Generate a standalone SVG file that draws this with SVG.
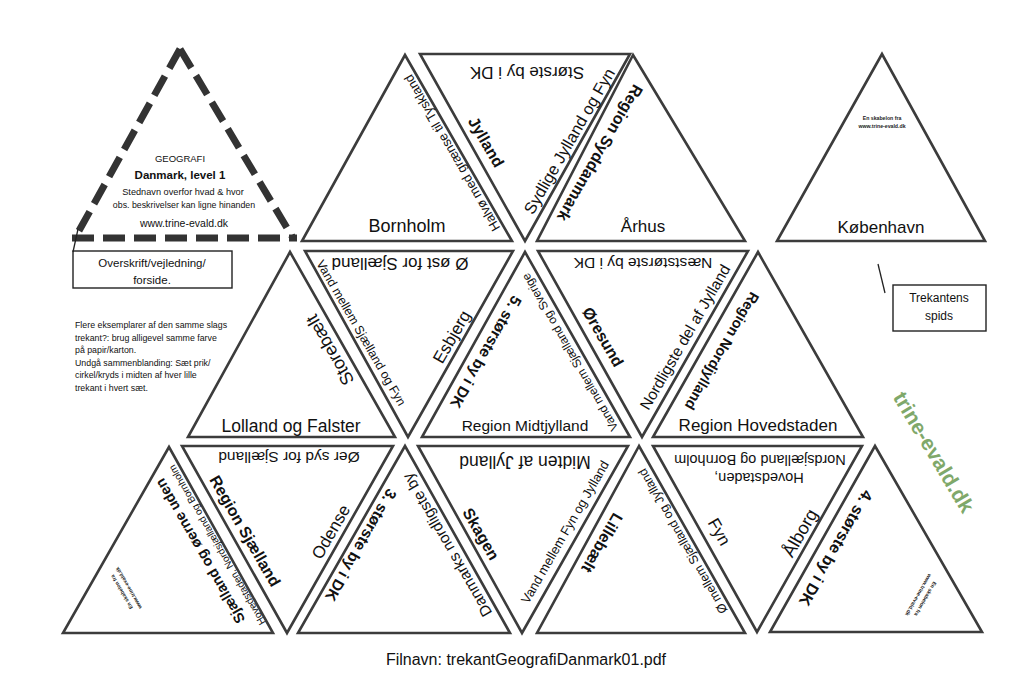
<svg xmlns="http://www.w3.org/2000/svg" width="1024" height="675" viewBox="0 0 1024 675">
<style>
.tri{fill:#fff;stroke:#3c3c3c;stroke-width:2.6;stroke-linejoin:miter}
.dash{fill:none;stroke:#333;stroke-width:7;stroke-dasharray:22 9}
.box{fill:#fff;stroke:#222;stroke-width:1.4}
.t{font-family:"Liberation Sans",Arial,sans-serif;fill:#111;text-anchor:middle;dominant-baseline:central}
.p{font-family:"Liberation Sans",Arial,sans-serif;fill:#111}
.c{text-anchor:middle}
.b{font-weight:bold}
.lbl{font-family:"Liberation Sans",Arial,sans-serif;font-weight:bold;font-size:5.2px;fill:#222;text-anchor:middle;dominant-baseline:central}
.ptr{stroke:#222;stroke-width:1.3;fill:none}
</style>
<rect width="1024" height="675" fill="#fff"/>

<g id="cover">
<line class="dash" x1="180" y1="49" x2="75" y2="238"/>
<line class="dash" x1="180" y1="49" x2="293" y2="238"/>
<line class="dash" x1="72" y1="238" x2="297" y2="238"/>
<text class="p c" x="180" y="162" font-size="9.5">GEOGRAFI</text>
<text class="p c b" x="180" y="179" font-size="11.5">Danmark, level 1</text>
<text class="p c" x="183" y="195" font-size="9.2">Stednavn overfor hvad &amp; hvor</text>
<text class="p c" x="184" y="208" font-size="8.8">obs. beskrivelser kan ligne hinanden</text>
<text class="p c" x="184" y="227" font-size="10.5">www.trine-evald.dk</text>
</g>

<g id="box-overskrift">
<rect class="box" x="73" y="251" width="159" height="37"/>
<text class="p c" x="152" y="267" font-size="11.5">Overskrift/vejledning/</text>
<text class="p c" x="152" y="284" font-size="11.5">forside.</text>
</g>

<g id="note">
<text class="p" x="75" y="328" font-size="8.8">Flere eksemplarer af den samme slags</text>
<text class="p" x="75" y="340.6" font-size="8.8">trekant?: brug alligevel samme farve</text>
<text class="p" x="75" y="353.2" font-size="8.8">på papir/karton.</text>
<text class="p" x="75" y="365.8" font-size="8.8">Undgå sammenblanding: Sæt prik/</text>
<text class="p" x="75" y="378.4" font-size="8.8">cirkel/kryds i midten af hver lille</text>
<text class="p" x="75" y="391" font-size="8.8">trekant i hvert sæt.</text>
</g>

<g id="box-spids">
<rect class="box" x="893" y="285" width="93" height="46"/>
<text class="p c" x="939" y="302" font-size="12">Trekantens</text>
<text class="p c" x="939" y="320" font-size="12">spids</text>
</g>

<g id="connectors">
<line class="ptr" x1="73" y1="252" x2="78" y2="229"/>
<line class="ptr" x1="878" y1="264" x2="885" y2="293"/>
</g>

<g id="watermark">
<text class="t b" transform="translate(934,452) rotate(59)" font-size="21" fill="#7fa86a" style="fill:#7fa86a">trine-evald.dk</text>
</g>

<!-- Row 1 -->
<g id="t2">
<polygon class="tri" points="405,55 302,241 512,241"/>
<text class="t" transform="translate(407,226)" font-size="18">Bornholm</text>
<text class="t" transform="translate(452,153) rotate(-120)" font-size="13">Halvø med grænse til Tyskland</text>
</g>
<g id="t3">
<polygon class="tri" points="420,54 630,54 525,241"/>
<text class="t" transform="translate(527,72) rotate(180)" font-size="17">Største by i DK</text>
<text class="t b" transform="translate(486,142) rotate(60)" font-size="16">Jylland</text>
<text class="t" transform="translate(569,141) rotate(-60)" font-size="16.5">Sydlige Jylland og Fyn</text>
</g>
<g id="t4">
<polygon class="tri" points="633,55 537,241 745,241"/>
<text class="t b" transform="translate(600,153) rotate(120)" font-size="16">Region Syddanmark</text>
<text class="t" transform="translate(643,226)" font-size="17">Århus</text>
</g>
<g id="t5">
<polygon class="tri" points="882,54 777,241 985,241"/>
<text class="t" transform="translate(881,227)" font-size="17">København</text>
<g transform="translate(882,122)"><text class="lbl" y="-4">En skabelon fra</text><text class="lbl" y="4">www.trine-evald.dk</text></g>
</g>

<!-- Row 2 -->
<g id="t6">
<polygon class="tri" points="290,252 188,437 395,437"/>
<text class="t" transform="translate(291,426)" font-size="17.5">Lolland og Falster</text>
<text class="t" transform="translate(330,350) rotate(-120)" font-size="18">Storebælt</text>
</g>
<g id="t7">
<polygon class="tri" points="305,251 513,251 408,437"/>
<text class="t" transform="translate(400,263) rotate(180)" font-size="17">Ø øst for Sjælland</text>
<text class="t" transform="translate(361,333) rotate(60)" font-size="12.5">Vand mellem Sjælland og Fyn</text>
<text class="t" transform="translate(452,337) rotate(-60)" font-size="17">Esbjerg</text>
</g>
<g id="t8">
<polygon class="tri" points="525,252 422,437 630,437"/>
<text class="t" transform="translate(525,425)" font-size="15.5">Region Midtjylland</text>
<text class="t b" transform="translate(486,352) rotate(120)" font-size="15.5">5. største by i DK</text>
<text class="t" transform="translate(570,352) rotate(-120)" font-size="12">Vand mellem Sjælland og Sverige</text>
</g>
<g id="t9">
<polygon class="tri" points="538,251 748,251 642,437"/>
<text class="t" transform="translate(643,263) rotate(180)" font-size="15.5">Næststørste by i DK</text>
<text class="t b" transform="translate(603,337) rotate(60)" font-size="16">Øresund</text>
<text class="t" transform="translate(685,337) rotate(-60)" font-size="15.5">Nordligste del af Jylland</text>
</g>
<g id="t10">
<polygon class="tri" points="758,252 653,437 863,437"/>
<text class="t" transform="translate(758,425)" font-size="17">Region Hovedstaden</text>
<text class="t b" transform="translate(722,351) rotate(120)" font-size="14.5">Region Nordjylland</text>
</g>

<!-- Row 3 -->
<g id="t11">
<polygon class="tri" points="169,447 63,633 273,633"/>
<text class="t b" transform="translate(200,551) rotate(-120)" font-size="14.5">Sjælland og øerne uden</text>
<text class="t" transform="translate(217,545) rotate(-120)" font-size="10">Hovedstaden, Nordsjælland og Bornholm</text>
<g transform="translate(125,590) rotate(-120)"><text class="lbl" y="-4">En skabelon fra</text><text class="lbl" y="4">www.trine-evald.dk</text></g>
</g>
<g id="t12">
<polygon class="tri" points="182,446 393,446 287,633"/>
<text class="t" transform="translate(289,457) rotate(180)" font-size="15.5">Øer syd for Sjælland</text>
<text class="t b" transform="translate(245,531) rotate(60)" font-size="16">Region Sjælland</text>
<text class="t" transform="translate(331,532) rotate(-60)" font-size="17">Odense</text>
</g>
<g id="t13">
<polygon class="tri" points="405,446 298,633 510,633"/>
<text class="t b" transform="translate(361,545) rotate(120)" font-size="15.5">3. største by i DK</text>
<text class="t" transform="translate(447,545) rotate(-120)" font-size="15.5">Danmarks nordligste by</text>
</g>
<g id="t14">
<polygon class="tri" points="418,446 628,446 522,633"/>
<text class="t" transform="translate(525,462) rotate(180)" font-size="17.5">Midten af Jylland</text>
<text class="t b" transform="translate(481,534) rotate(60)" font-size="16">Skagen</text>
<text class="t" transform="translate(565,532) rotate(-60)" font-size="13">Vand mellem Fyn og Jylland</text>
</g>
<g id="t15">
<polygon class="tri" points="639,446 537,633 745,633"/>
<text class="t b" transform="translate(602,543) rotate(120)" font-size="16">Lillebælt</text>
<text class="t" transform="translate(683,541) rotate(-120)" font-size="12.5">Ø mellem Sjælland og Jylland</text>
</g>
<g id="t16">
<polygon class="tri" points="653,446 862,446 757,632"/>
<text class="t" transform="translate(760,460) rotate(180)" font-size="14.5">Nordsjælland og Bornholm</text>
<text class="t" transform="translate(759,478) rotate(180)" font-size="14.5">Hovedstaden,</text>
<text class="t" transform="translate(719,532) rotate(60)" font-size="17">Fyn</text>
<text class="t" transform="translate(800,533) rotate(-60)" font-size="18">Ålborg</text>
</g>
<g id="t17">
<polygon class="tri" points="875,446 770,632 982,632"/>
<text class="t b" transform="translate(836,548) rotate(120)" font-size="16">4. største by i DK</text>
<g transform="translate(922,597) rotate(120)"><text class="lbl" y="-4">En skabelon fra</text><text class="lbl" y="4">www.trine-evald.dk</text></g>
</g>

<g id="filename">
<text class="p c" x="526" y="665" font-size="16">Filnavn: trekantGeografiDanmark01.pdf</text>
</g>
</svg>
